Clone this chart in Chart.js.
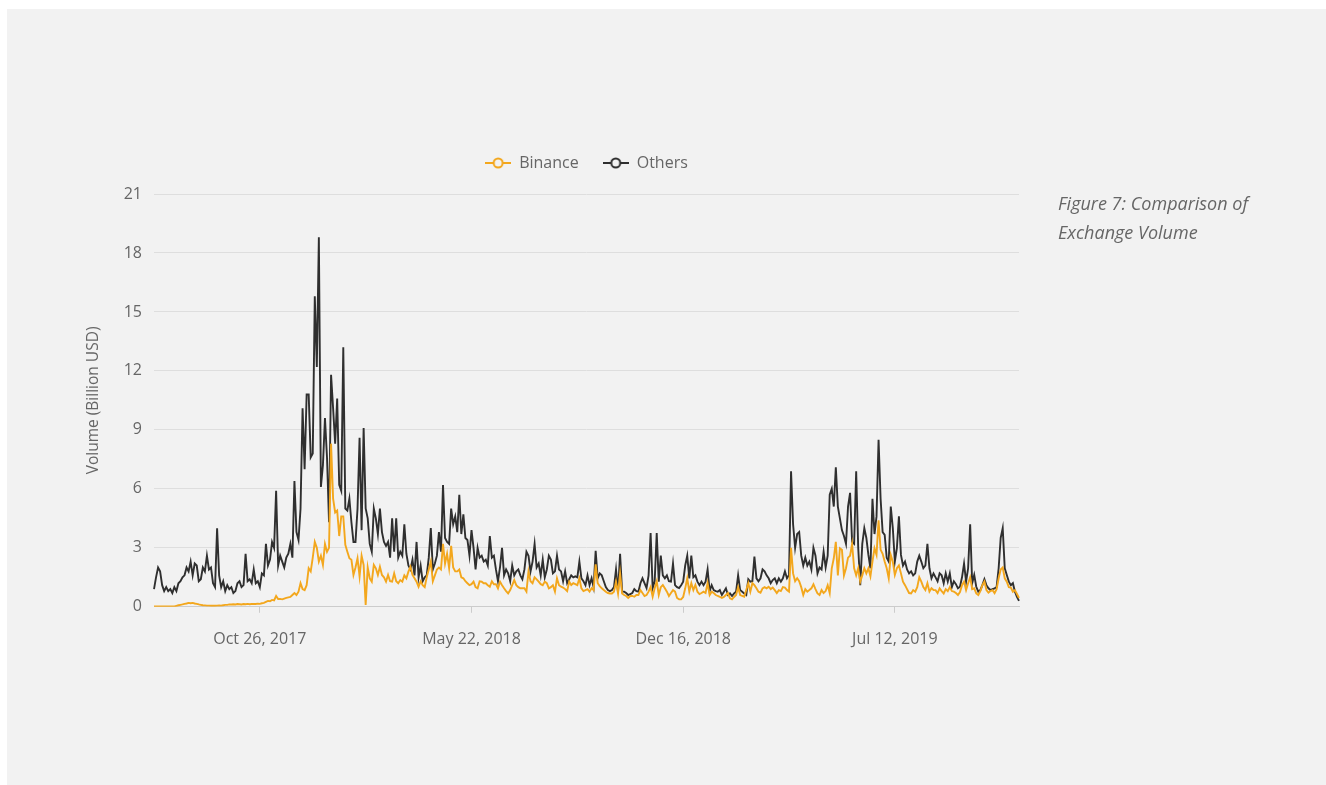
<!DOCTYPE html>
<html>
<head>
<meta charset="utf-8">
<script src="https://cdn.jsdelivr.net/npm/chart.js@4"></script>
<style>
  body { margin: 0; background: #fff; font-family: "Open Sans", sans-serif; }
  #panel { position: absolute; left: 7px; top: 9px; width: 1319px; height: 776px; background: #f2f2f2; }
  #wrap { position: absolute; left: 60px; top: 110px; width: 1050px; height: 570px; }
  #caption { position: absolute; left: 1058px; top: 189px; font: italic 18px/29px "Open Sans", sans-serif; color: #666; }
</style>
</head>
<body>
<div id="panel"></div>
<div id="wrap"><canvas id="chart"></canvas></div>
<div id="caption">Figure 7: Comparison of<br>Exchange Volume</div>
<script>
// one point every 2 days, starting Jul 14, 2017
const startDate = Date.UTC(2017, 6, 14);
const stepDays = 2;
const tickLabels = ['Oct 26, 2017', 'May 22, 2018', 'Dec 16, 2018', 'Jul 12, 2019'];

// volume, billion USD
const binance = [
    0.02,0.02,0.02,0.02,0.02,0.02,0.02,0.02,0.02,0.02,
    0.02,0.05,0.08,0.1,0.12,0.15,0.17,0.2,0.18,0.2,
    0.17,0.15,0.12,0.1,0.08,0.07,0.06,0.06,0.05,0.06,
    0.05,0.06,0.07,0.06,0.08,0.1,0.1,0.12,0.12,0.13,
    0.12,0.14,0.13,0.12,0.14,0.13,0.15,0.13,0.14,0.15,
    0.14,0.16,0.15,0.18,0.2,0.25,0.3,0.28,0.35,0.33,
    0.55,0.4,0.4,0.38,0.42,0.45,0.48,0.5,0.6,0.7,
    0.6,0.77,1.2,0.9,0.85,1.1,1.96,1.8,2.5,3.3,
    3.0,2.3,2.6,2.13,3.2,2.8,3.0,8.3,5.5,4.8,
    4.9,3.6,4.6,4.6,3.15,2.8,2.47,2.39,1.62,2.0,
    2.47,1.55,2.6,2.13,0.09,2.0,1.45,1.28,2.13,1.96,
    1.62,2.04,1.62,1.5,1.28,1.62,1.3,1.28,1.7,1.3,
    1.2,1.36,1.28,1.6,1.45,1.79,2.04,1.62,1.45,1.28,
    1.02,1.3,1.1,1.0,1.5,1.9,2.3,1.3,1.6,1.9,
    2.0,1.9,3.2,2.2,2.7,1.96,3.1,2.0,1.8,1.8,
    1.9,1.5,1.45,1.3,1.2,1.1,1.15,1.28,1.0,0.94,
    1.3,1.28,1.2,1.2,1.1,1.02,1.3,1.15,1.15,0.94,
    1.28,1.1,0.94,0.8,0.68,0.85,1.1,1.36,1.1,1.0,
    0.94,0.94,0.94,0.77,1.8,1.3,1.2,1.5,1.4,1.28,
    1.15,1.1,1.28,1.2,0.94,1.0,1.1,0.77,1.45,1.1,
    1.02,0.98,0.9,0.8,1.28,1.11,1.2,1.15,1.1,1.45,
    0.94,0.8,0.85,0.9,0.77,0.94,0.85,2.16,1.2,1.05,
    0.94,0.85,0.77,0.7,0.68,0.68,0.77,1.28,0.68,1.7,
    0.68,0.6,0.55,0.45,0.55,0.55,0.51,0.6,0.6,0.85,
    0.7,0.55,0.6,0.77,1.0,0.51,0.94,1.3,0.6,1.0,
    1.11,0.94,0.77,0.55,0.7,0.85,0.77,0.45,0.38,0.38,
    0.5,0.94,1.45,0.77,1.2,0.85,1.11,0.77,0.65,0.7,
    0.77,0.7,1.2,0.6,0.77,0.7,0.6,0.55,0.51,0.45,
    0.5,0.6,0.7,0.43,0.38,0.5,0.6,1.0,0.6,0.55,
    0.51,0.85,1.2,0.77,1.2,1.1,0.94,0.77,0.72,0.94,
    1.0,0.94,1.02,0.9,0.98,0.85,0.7,0.85,0.8,1.0,
    0.98,0.85,0.77,3.0,1.7,1.3,1.45,1.3,1.0,0.6,
    0.9,0.77,0.85,0.94,1.15,0.9,0.68,0.6,0.85,0.7,
    0.8,1.1,0.7,1.96,2.47,3.3,1.6,2.98,2.9,1.6,
    1.96,2.5,2.6,3.2,1.96,1.6,1.96,1.28,1.6,1.96,
    1.7,1.96,1.55,2.3,2.98,2.64,4.4,2.9,2.7,2.3,
    1.96,1.45,2.64,2.3,1.62,1.96,2.1,1.7,1.28,1.1,
    0.9,0.7,0.68,0.85,0.77,1.0,1.5,1.28,1.0,0.85,
    1.2,0.77,0.94,0.85,0.85,0.7,0.94,0.8,0.68,0.9,
    0.8,1.0,0.8,0.77,0.7,0.6,0.75,1.1,1.28,0.85,
    1.2,1.5,0.9,0.94,0.68,0.6,0.8,1.1,1.28,0.85,
    0.72,0.8,0.85,0.7,0.9,1.45,1.9,2.0,1.45,1.28,
    1.0,0.98,0.77,0.85,0.65,0.45
];

const others = [
    0.9,1.5,2.0,1.8,1.1,0.8,1.0,0.8,0.9,0.7,
    1.0,0.8,1.2,1.3,1.5,1.6,2.0,1.8,2.3,1.6,
    2.2,2.1,1.3,1.4,2.0,1.8,2.6,1.9,2.0,1.2,
    1.0,4.0,1.6,1.0,1.3,0.8,1.1,0.9,1.0,0.7,
    0.8,1.2,1.3,1.0,1.1,2.7,1.3,1.4,1.2,1.9,
    1.2,1.3,1.0,1.7,1.6,3.2,2.1,2.4,3.3,3.0,
    5.9,2.1,2.6,2.3,2.0,2.5,2.7,3.2,2.5,6.4,
    3.8,3.4,5.0,10.1,7.0,10.8,10.8,7.6,7.8,15.8,
    12.2,18.8,6.1,7.2,9.6,7.6,4.3,11.8,10.1,8.3,
    10.6,6.2,5.9,13.2,5.0,4.9,5.5,4.3,3.3,3.3,
    5.0,8.6,3.9,9.1,5.0,4.5,3.2,2.8,5.0,4.5,
    3.7,5.0,3.8,3.3,3.1,3.3,2.5,4.5,2.8,4.5,
    2.5,2.8,2.6,4.2,2.7,2.1,1.9,2.4,1.6,3.3,
    1.5,2.1,1.3,1.5,1.6,2.5,4.0,1.9,2.2,2.6,
    3.8,2.8,6.2,3.5,3.3,3.2,5.0,4.2,4.6,3.8,
    5.7,3.7,4.7,3.5,3.4,2.6,3.9,3.0,1.9,3.0,
    2.5,2.6,2.3,2.4,2.1,3.6,2.5,2.6,1.9,1.3,
    2.0,3.0,1.6,1.9,1.7,1.3,2.1,1.6,1.8,1.9,
    1.6,1.4,1.9,2.8,2.6,1.8,2.3,3.2,2.0,2.2,
    1.6,2.4,1.5,1.9,2.6,2.4,1.7,1.8,2.6,1.9,
    1.8,1.3,1.8,1.2,1.4,1.6,1.5,1.55,1.5,2.3,
    1.45,1.3,1.1,1.6,1.1,1.45,1.0,2.85,1.45,1.7,
    1.6,1.3,1.0,0.85,0.8,0.85,1.0,1.9,0.75,2.7,
    0.77,0.77,0.7,0.6,0.65,0.7,0.9,0.8,0.77,1.2,
    1.45,1.2,0.95,1.6,3.75,0.95,1.3,3.75,1.28,2.6,
    1.6,1.45,1.6,1.3,1.28,2.2,1.1,1.0,0.95,1.1,
    1.28,2.1,2.6,1.45,2.6,1.5,1.6,1.28,1.1,1.28,
    1.1,1.28,1.9,0.8,1.1,0.85,0.8,0.77,0.85,0.6,
    0.77,0.94,0.6,0.68,0.55,0.68,0.77,1.6,0.85,0.77,
    0.68,0.6,1.4,1.28,1.3,2.55,1.45,1.3,1.45,1.9,
    1.8,1.6,1.45,1.2,1.36,1.45,1.2,1.45,1.28,1.45,
    1.8,1.45,1.62,6.9,4.2,3.0,3.7,3.8,2.6,2.1,
    2.5,2.1,2.3,1.9,3.0,2.6,1.7,2.0,1.9,2.8,
    2.0,2.6,5.7,6.0,5.1,7.1,5.1,4.5,3.9,3.6,
    3.2,5.1,5.8,3.3,3.2,6.9,3.0,1.1,3.2,4.0,
    3.5,2.64,1.96,5.5,3.7,4.6,8.5,5.5,3.8,3.66,
    2.5,2.3,5.1,4.0,2.3,2.98,4.6,2.64,2.1,2.3,
    1.9,1.7,1.8,1.6,1.7,2.3,2.6,2.3,1.96,2.1,
    3.2,1.96,1.45,1.7,1.5,1.3,1.7,1.6,1.2,1.7,
    1.28,1.7,1.0,1.3,1.15,0.94,1.02,1.5,2.2,1.28,
    1.96,4.2,1.2,1.62,1.02,0.77,0.85,1.1,1.4,1.1,
    0.94,0.85,0.9,0.94,1.0,1.96,3.5,4.0,1.96,1.62,
    1.28,1.1,1.2,0.77,0.5,0.3
];

const months = ['Jan','Feb','Mar','Apr','May','Jun','Jul','Aug','Sep','Oct','Nov','Dec'];
const labels = binance.map((v, i) => {
    const d = new Date(startDate + i * stepDays * 86400000);
    return `${months[d.getUTCMonth()]} ${d.getUTCDate()}, ${d.getUTCFullYear()}`;
});

const colors = ['#f3a71d', '#2f2f2f'];

// legend icon: line with hollow circle
function makeIcon(color) {
    const c = document.createElement('canvas');
    c.width = 26;
    c.height = 14;
    const g = c.getContext('2d');
    g.strokeStyle = color;
    g.lineWidth = 2;
    g.beginPath();
    g.moveTo(0, 7);
    g.lineTo(26, 7);
    g.stroke();
    g.beginPath();
    g.arc(13, 7, 4.5, 0, Math.PI * 2);
    g.fillStyle = '#f2f2f2';
    g.fill();
    g.stroke();
    return c;
}
const icons = colors.map(makeIcon);

Chart.defaults.font.family = '"Open Sans", sans-serif';
Chart.defaults.color = '#666';

// extra room below the legend
const legendGap = {
    id: 'legendGap',
    beforeInit(chart) {
        const fit = chart.legend.fit;
        chart.legend.fit = function () {
            fit.bind(chart.legend)();
            this.height += 13;
        };
    }
};

new Chart(document.getElementById('chart'), {
    type: 'line',
    data: {
        labels: labels,
        datasets: [
            { label: 'Binance', data: binance, borderColor: colors[0], backgroundColor: colors[0] },
            { label: 'Others', data: others, borderColor: colors[1], backgroundColor: colors[1] }
        ]
    },
    options: {
        responsive: true,
        maintainAspectRatio: false,
        animation: false,
        layout: { padding: { left: 21, right: 18, top: 21, bottom: 14 } },
        elements: {
            line: { borderWidth: 1.9, tension: 0 },
            point: { radius: 0, hoverRadius: 0 }
        },
        plugins: {
            tooltip: { enabled: false },
            legend: {
                labels: {
                    usePointStyle: true,
                    pointStyleWidth: 26,
                    padding: 24,
                    color: '#666',
                    font: { size: 16 },
                    generateLabels(chart) {
                        const items = Chart.defaults.plugins.legend.labels.generateLabels(chart);
                        items.forEach(it => { it.pointStyle = icons[it.datasetIndex]; });
                        return items;
                    }
                }
            }
        },
        scales: {
            x: {
                grid: { display: true, drawOnChartArea: false, drawTicks: true, tickLength: 6, color: '#ccc' },
                border: { display: true, color: '#ccc', width: 1 },
                ticks: {
                    autoSkip: false,
                    maxRotation: 0,
                    padding: 17,
                    color: '#666',
                    font: { size: 16 },
                    callback: (val, idx) => tickLabels.includes(labels[idx]) ? labels[idx] : null
                }
            },
            y: {
                min: 0,
                max: 21,
                grid: { color: '#dedede', drawTicks: false },
                border: { display: false },
                ticks: { stepSize: 3, padding: 12, color: '#666', font: { size: 16 } },
                title: {
                    display: true,
                    text: 'Volume (Billion USD)',
                    color: '#666',
                    font: { size: 15.5 },
                    padding: { top: 3, bottom: 0 }
                },
                afterFit(s) { s.width = 73; }
            },
            y2: {
                position: 'right',
                grid: { display: false },
                border: { display: false },
                ticks: { display: false },
                afterFit(s) { s.width = 73; }
            }
        }
    },
    plugins: [legendGap]
});
</script>
</body>
</html>
